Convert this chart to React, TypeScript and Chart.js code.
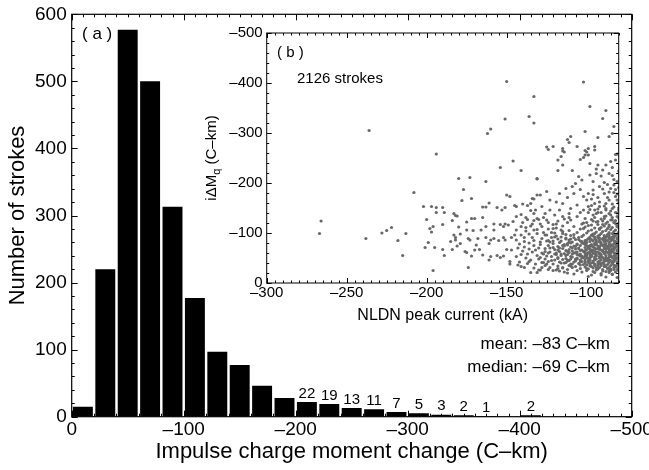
import React, { useEffect, useRef } from 'react';
import { Chart, registerables } from 'chart.js';

Chart.register(...registerables);

const FONT = "'Liberation Sans', Arial, Helvetica, sans-serif";

// ---------- Panel (a): histogram ----------
const binCenters = [-10, -30, -50, -70, -90, -110, -130, -150, -170, -190, -210, -230, -250, -270, -290, -310, -330, -350, -370, -390, -410, -430, -450, -470, -490];
const binCounts = [15, 220, 577, 500, 313, 177, 97, 77, 46, 28, 22, 19, 13, 11, 7, 5, 3, 2, 1, 0, 2, 0, 0, 0, 0];
const barLabels = ['', '', '', '', '', '', '', '', '', '', '22', '19', '13', '11', '7', '5', '3', '2', '1', '', '2', '', '', '', ''];
const mainXTicks = [0, -100, -200, -300, -400, -500];
const mainYTicks = [0, 100, 200, 300, 400, 500, 600];
const mainXTitle = 'Impulse charge moment change (C–km)';
const mainYTitle = 'Number of strokes';
const statLines = ['mean: –83 C–km', 'median: –69 C–km'];
const panelA = '( a )';

// ---------- Panel (b): scatter ----------
const insetXTicks = [-300, -250, -200, -150, -100];
const insetYTicks = [-500, -400, -300, -200, -100, 0];
const insetXTitle = 'NLDN peak current (kA)';
const panelB = '( b )';
const strokeNote = '2126 strokes';
// [peak current kA, iΔMq C-km] pairs
const scatterPairs = [
  -236, -305, -194, -258, -150, -403, -102, -402, -133, -373, -98, -353, -88, -345, -90, -329,
  -151, -328, -136, -333, -133, -320, -160, -308, -162, -299, -101, -303, -83, -313, -84, -299,
  -86, -293, -93, -291, -110, -293, -112, -287, -111, -281, -125, -272, -124, -267, -121, -273,
  -115, -269, -114, -262, -106, -273, -101, -265, -100, -262, -99, -269, -95, -273, -95, -266,
  -99, -256, -102, -251, -116, -253, -82, -257, -208, -181, -202, -153, -197, -153, -194, -151,
  -190, -151, -194, -141, -189, -141, -200, -127, -266, -124, -267, -99, -238, -89, -228, -100,
  -225, -105, -222, -111, -218, -85, -215, -55, -213, -99, -198, -109, -196, -113, -197, -102,
  -190, -117, -199, -81, -201, -71, -195, -71, -190, -67, -189, -55, -196, -25,
  -146, -244, -154, -231, -141, -225, -180, -209, -173, -211, -163, -203, -131, -208, -177, -187,
  -178, -165, -172, -169, -150, -176, -148, -173, -161, -160, -165, -152, -163, -152, -156, -151,
  -153, -146, -151, -151, -145, -155, -144, -153, -140, -158, -137, -155, -135, -159, -135, -145,
  -132, -146, -134, -169, -131, -176, -183, -139, -182, -135, -181, -134, -184, -125, -180, -112,
  -175, -122, -172, -129, -170, -129, -165, -131, -158, -118, -154, -117, -151, -118, -146, -123,
  -144, -133, -141, -137, -138, -131, -137, -127, -133, -125, -130, -127, -175, -106, -171, -105,
  -166, -106, -163, -113, -158, -106, -152, -113, -149, -116, -144, -106, -141, -113, -138, -111,
  -135, -114, -131, -107, -183, -96, -179, -98, -182, -91, -182, -86, -185, -83, -179, -79,
  -174, -89, -173, -86, -168, -89, -169, -76, -167, -67, -163, -91, -160, -86, -158, -89,
  -161, -79, -155, -85, -152, -91, -151, -86, -147, -91, -145, -96, -144, -86, -141, -96,
  -139, -91, -136, -98, -134, -91, -131, -99, -184, -67, -181, -74, -176, -63, -175, -61,
  -172, -54, -170, -66, -165, -56, -160, -53, -161, -46, -156, -55, -154, -51, -152, -54,
  -150, -67, -147, -66, -148, -43, -148, -38, -144, -53, -143, -36, -141, -33, -142, -42,
  -137, -39, -135, -21, -174, -31, -130, -26,
  -142, -78, -139, -72, -136, -80, -133, -75, -130, -70, -140, -64, -137, -58, -134, -62,
  -131, -55, -138, -50, -135, -46, -132, -66, -129, -82, -143, -70, -130, -48, -133, -85,
  -141, -57, -128, -60, -136, -68, -139, -83,
  -115, -264, -118, -246, -115, -236, -104, -247, -101, -256, -98, -239, -93, -236, -88, -236,
  -85, -243, -82, -246, -81, -258, -118, -225, -109, -225, -105, -213, -103, -206, -98, -216,
  -94, -219, -91, -214, -86, -219, -83, -207, -81, -203, -131, -209, -133, -168, -129, -176,
  -125, -183, -123, -166, -117, -179, -113, -189, -109, -193, -108, -179, -104, -187, -102, -173,
  -99, -179, -96, -186, -92, -193, -89, -179, -85, -189, -82, -173, -81, -166, -95, -159,
  -92, -153, -88, -159, -84, -149, -115, -159, -110, -149, -106, -156, -102, -146, -99, -153,
  -128, -153, -123, -146, -120, -136, -133, -139, -131, -129, -125, -126, -115, -133, -110, -126,
  -106, -133, -101, -129, -96, -136, -93, -123, -89, -133, -84, -126, -81, -133, -81, -113,
  -86, -113, -92, -109, -97, -116, -102, -109, -108, -113, -115, -114, -121, -109, -128, -113,
  -133, -106, -129, -26, -131, -21, -124, -27, -121, -25, -119, -26, -115, -31, -99, -13,
  -91, -16, -84, -18, -81, -11,
  -90, -226, -84, -231, -96, -203, -87, -197, -107, -199, -112, -171, -119, -162, -97, -168,
  -93, -171, -86, -166, -83, -181, -80, -191, -88, -146, -91, -141, -95, -146, -104, -141,
  -111, -139, -117, -146, -126, -139, -82, -141, -85, -136, -80, -146, -87, -122, -100, -121,
  -112, -121, -119, -118, -124, -121, -127, -131, -103, -118, -96, -124, -82, -119, -90, -117,
  -84, -17, -91, -19, -97, -16, -108, -18, -88, -12,
  -82, -22, -88, -23, -95, -21, -103, -22, -112, -20, -86, -25,
  -81, -27, -85, -25, -90, -27, -94, -26, -99, -28, -106, -25, -112, -27, -117, -24,
  -80, -30, -83, -31, -87, -29, -92, -31, -96, -30, -101, -32, -104, -29, -109, -31, -115, -30, -123, -31,
  -82, -34, -85, -35, -89, -33, -93, -35, -98, -34, -100, -36, -107, -33, -111, -35, -118, -34, -126, -35,
  -80, -38, -84, -39, -87, -37, -91, -39, -95, -38, -97, -40, -102, -37, -105, -39, -110, -38, -114, -40, -121, -38, -127, -41,
  -81, -42, -83, -43, -86, -41, -89, -43, -93, -42, -96, -44, -99, -41, -103, -43, -108, -42, -112, -44, -117, -42, -124, -43,
  -80, -46, -82, -47, -85, -45, -88, -47, -91, -46, -94, -48, -98, -45, -101, -47, -104, -46, -107, -48, -111, -45, -115, -47, -120, -46, -126, -48,
  -81, -50, -84, -51, -87, -49, -90, -51, -92, -50, -95, -52, -99, -49, -102, -51, -106, -50, -109, -52, -113, -49, -118, -51, -122, -53,
  -80, -54, -83, -55, -85, -53, -88, -55, -91, -54, -94, -56, -97, -53, -100, -55, -103, -54, -105, -56, -110, -53, -116, -55, -119, -57, -125, -54,
  -81, -58, -82, -59, -86, -57, -89, -59, -92, -58, -96, -60, -98, -57, -101, -59, -104, -58, -108, -60, -112, -57, -114, -59, -119, -60, -127, -58,
  -80, -62, -84, -63, -87, -61, -90, -63, -93, -62, -95, -64, -99, -61, -102, -63, -106, -62, -109, -64, -111, -61, -117, -63, -123, -62,
  -81, -66, -83, -67, -85, -65, -88, -67, -91, -66, -94, -68, -97, -65, -100, -67, -103, -66, -107, -68, -113, -65, -120, -67, -126, -69,
  -80, -70, -82, -71, -86, -69, -89, -71, -92, -70, -96, -72, -98, -69, -101, -71, -105, -70, -110, -72, -115, -69, -121, -71,
  -81, -74, -84, -75, -87, -73, -90, -75, -93, -74, -95, -76, -99, -73, -104, -75, -108, -74, -112, -76, -118, -73, -124, -75,
  -80, -78, -83, -79, -85, -77, -88, -79, -91, -78, -94, -80, -97, -77, -102, -79, -106, -78, -110, -80, -114, -77, -121, -79,
  -81, -82, -82, -83, -86, -81, -89, -83, -92, -82, -96, -84, -100, -81, -103, -83, -109, -82, -116, -84, -123, -82,
  -80, -86, -84, -87, -87, -85, -90, -87, -94, -86, -98, -88, -101, -85, -107, -87, -111, -86, -118, -88, -124, -85,
  -81, -90, -83, -91, -85, -89, -88, -91, -92, -90, -95, -92, -99, -89, -105, -91, -113, -90, -120, -92,
  -80, -94, -82, -95, -86, -93, -89, -95, -93, -94, -97, -96, -103, -93, -110, -95, -119, -94, -126, -96,
  -81, -98, -84, -99, -87, -97, -91, -99, -96, -98, -100, -100, -108, -97, -115, -99,
  -80, -102, -83, -103, -86, -101, -90, -103, -94, -102, -99, -104, -106, -101, -115, -103, -122, -101,
  -82, -106, -85, -107, -88, -105, -92, -107, -97, -106, -104, -108, -111, -105,
  -80, -110, -84, -111, -87, -109, -91, -111, -95, -110, -101, -112,
  -81, -115, -86, -116, -89, -114, -93, -117, -99, -115,
  -80, -120, -83, -121, -88, -119, -94, -122, -102, -120,
  -82, -125, -85, -126, -90, -124, -97, -127,
  -80, -130, -84, -131, -89, -129,
  -81, -140, -86, -139, -93, -141,
  -80, -150, -83, -152, -88, -149,
  -82, -32, -85, -28, -88, -33, -91, -35, -94, -31, -97, -33, -100, -29,
  -81, -36, -84, -41, -87, -44, -90, -40, -93, -38, -96, -41, -99, -44,
  -83, -48, -86, -52, -89, -48, -92, -53, -95, -49, -98, -52, -101, -54,
  -82, -56, -85, -60, -88, -62, -91, -57, -94, -61, -97, -63, -100, -58,
  -81, -64, -84, -68, -87, -70, -90, -65, -93, -69, -96, -66, -99, -71,
  -83, -72, -86, -76, -89, -77, -92, -73, -95, -79, -98, -75, -101, -77,
  -82, -80, -85, -84, -88, -85, -91, -81, -94, -83, -97, -87, -100, -86,
  -81, -88, -84, -92, -87, -94, -90, -89, -93, -91, -96, -94,
  -104, -36, -107, -44, -103, -50, -106, -57, -104, -65, -107, -73, -103, -80, -105, -87, -102, -96,
  -110, -34, -113, -41, -110, -48, -113, -55, -111, -67, -114, -74, -111, -82, -113, -88,
  -80, -34, -83, -36, -86, -31, -89, -37, -92, -39, -95, -35, -98, -38, -101, -40,
  -80, -42, -83, -45, -86, -47, -89, -45, -92, -44, -95, -46, -98, -48, -101, -43,
  -80, -50, -82, -52, -85, -55, -88, -51, -91, -52, -94, -54, -97, -56, -100, -51,
  -80, -58, -83, -61, -86, -63, -89, -61, -92, -60, -95, -58, -98, -61, -101, -62,
  -80, -66, -83, -69, -86, -67, -89, -69, -92, -67, -95, -70, -98, -67, -101, -65,
  -80, -74, -82, -77, -85, -73, -88, -75, -91, -76, -94, -77, -97, -74, -100, -75,
  -80, -82, -83, -85, -86, -89, -89, -87, -92, -86, -95, -88, -98, -83, -101, -81,
  -80, -90, -83, -95, -86, -97, -89, -92, -92, -96, -95, -99, -98, -92,
  -104, -42, -106, -48, -104, -54, -107, -61, -105, -69, -106, -77, -104, -84, -108, -91,
  -109, -38, -112, -46, -109, -58, -112, -63, -109, -70, -112, -79, -110, -88,
  -116, -40, -118, -49, -116, -58, -118, -66, -115, -75, -117, -81, -116, -92, -120, -100,
  -80, -24, -83, -27, -86, -21, -90, -24, -93, -28, -96, -23, -100, -25,
  -81, -178, -84, -158, -87, -171, -90, -188, -93, -148, -96, -177, -99, -141, -83, -196,
  -86, -182, -89, -154, -92, -162, -95, -131, -98, -147, -80, -160, -85, -144, -88, -134,
  -91, -128, -94, -139, -97, -155, -100, -166, -82, -187, -84, -215, -89, -201, -94, -228, -80, -224,
  -128, -31, -125, -38, -122, -45, -129, -51, -126, -63, -123, -70, -129, -77, -125, -84,
  -122, -91, -127, -101, -124, -108, -121, -117, -118, -124, -114, -128, -111, -131, -119, -110,
  -116, -106, -113, -97, -118, -29, -114, -22, -120, -58, -117, -70, -121, -84, -125, -96,
  -128, -89, -124, -60, -138, -104, -134, -118, -140, -121, -129, -118, -136, -43, -132, -38,
  -139, -31, -128, -41, -133, -30,
];

function fmt(v: number): string {
  if (v === 0) return '0';
  return (v < 0 ? '–' : '') + Math.abs(v);
}

type AxisSpec = { min: number; max: number; major: number; minor: number; majorLen: number; minorLen: number };

function drawFrameTicks(chart: any, xs: AxisSpec, ys: AxisSpec, lw: number) {
  const { ctx, chartArea: a, scales } = chart;
  const sx = scales.x;
  const sy = scales.y;
  ctx.save();
  ctx.strokeStyle = '#000';
  ctx.lineWidth = 1;
  ctx.beginPath();
  const isMajor = (v: number, m: number) => Math.abs(v / m - Math.round(v / m)) < 1e-6;
  for (let v = xs.min; v <= xs.max + 1e-9; v += xs.minor) {
    const len = isMajor(v, xs.major) ? xs.majorLen : xs.minorLen;
    const px = Math.round(sx.getPixelForValue(v)) + 0.5;
    ctx.moveTo(px, a.bottom);
    ctx.lineTo(px, a.bottom - len);
    ctx.moveTo(px, a.top);
    ctx.lineTo(px, a.top + len);
  }
  for (let v = ys.min; v <= ys.max + 1e-9; v += ys.minor) {
    const len = isMajor(v, ys.major) ? ys.majorLen : ys.minorLen;
    const py = Math.round(sy.getPixelForValue(v)) + 0.5;
    ctx.moveTo(a.left, py);
    ctx.lineTo(a.left + len, py);
    ctx.moveTo(a.right, py);
    ctx.lineTo(a.right - len, py);
  }
  ctx.stroke();
  ctx.lineWidth = lw;
  ctx.strokeRect(a.left, a.top, a.right - a.left, a.bottom - a.top);
  ctx.restore();
}

export default function App() {
  const mainRef = useRef<HTMLCanvasElement>(null);
  const insetRef = useRef<HTMLCanvasElement>(null);

  useEffect(() => {
    document.body.style.margin = '0';
    Chart.defaults.font.family = FONT;
    Chart.defaults.color = '#000';

    const mainPlugin = {
      id: 'mainDecor',
      afterDatasetsDraw(chart: any) {
        drawFrameTicks(
          chart,
          { min: -500, max: 0, major: 100, minor: 10, majorLen: 6, minorLen: 3 },
          { min: 0, max: 600, major: 100, minor: 20, majorLen: 6, minorLen: 3 },
          1.2
        );
        const { ctx } = chart;
        const meta = chart.getDatasetMeta(0);
        ctx.save();
        ctx.fillStyle = '#000';
        ctx.font = `15px ${FONT}`;
        ctx.textAlign = 'center';
        ctx.textBaseline = 'bottom';
        meta.data.forEach((el: any, i: number) => {
          if (barLabels[i]) ctx.fillText(barLabels[i], el.x, el.y - 1);
        });
        ctx.font = `17px ${FONT}`;
        ctx.textAlign = 'left';
        ctx.textBaseline = 'middle';
        ctx.fillText(panelA, 82, 34);
        ctx.textAlign = 'right';
        ctx.fillText(statLines[0], 610, 344);
        ctx.fillText(statLines[1], 610, 367);
        ctx.restore();
      },
    };

    const main = new Chart(mainRef.current!, {
      type: 'bar',
      data: {
        datasets: [
          {
            data: binCenters.map((c, i) => ({ x: c, y: binCounts[i] })),
            backgroundColor: '#000',
            borderWidth: 0,
            barPercentage: 0.89,
            categoryPercentage: 1,
          },
        ],
      },
      options: {
        responsive: false,
        maintainAspectRatio: false,
        animation: false,
        layout: { padding: { top: 14.3, right: 17.3, left: 0, bottom: 0 } },
        plugins: { legend: { display: false }, tooltip: { enabled: false } },
        scales: {
          x: {
            type: 'linear',
            min: -500,
            max: 0,
            reverse: true,
            offset: false,
            afterBuildTicks: (s: any) => { s.ticks = mainXTicks.map((v) => ({ value: v })); },
            ticks: { callback: (v: any) => fmt(Number(v)), font: { size: 19 }, color: '#000', padding: 2, maxRotation: 0, autoSkip: false },
            grid: { display: false, drawTicks: false },
            border: { display: false },
            title: { display: true, text: mainXTitle, font: { size: 22 }, color: '#000', padding: { top: 0, bottom: 5 } },
            afterFit: (s: any) => { s.height = 53.3; s.paddingLeft = 0; s.paddingRight = 0; },
          },
          y: {
            type: 'linear',
            min: 0,
            max: 600,
            afterBuildTicks: (s: any) => { s.ticks = mainYTicks.map((v) => ({ value: v })); },
            ticks: { callback: (v: any) => fmt(Number(v)), font: { size: 19 }, color: '#000', padding: 5, autoSkip: false },
            grid: { display: false, drawTicks: false },
            border: { display: false },
            title: { display: true, text: mainYTitle, font: { size: 22 }, color: '#000', padding: { top: 5, bottom: 0 } },
            afterFit: (s: any) => { s.width = 71.7; s.paddingTop = 0; s.paddingBottom = 0; },
          },
        },
      } as any,
      plugins: [mainPlugin],
    });

    const insetPlugin = {
      id: 'insetDecor',
      afterDatasetsDraw(chart: any) {
        drawFrameTicks(
          chart,
          { min: -300, max: -80, major: 50, minor: 5, majorLen: 5, minorLen: 2.5 },
          { min: -500, max: 0, major: 100, minor: 20, majorLen: 5, minorLen: 2.5 },
          1
        );
        const { ctx } = chart;
        ctx.save();
        ctx.fillStyle = '#000';
        ctx.font = `15px ${FONT}`;
        ctx.textAlign = 'left';
        ctx.textBaseline = 'middle';
        ctx.fillText(panelB, 77, 33);
        ctx.fillText(strokeNote, 97, 59);
        // rotated y title with subscript q
        const big = `15px ${FONT}`;
        const small = `11px ${FONT}`;
        const p1 = 'iΔM';
        const p2 = 'q';
        const p3 = ' (C–km)';
        ctx.font = big;
        const w1 = ctx.measureText(p1).width;
        const w3 = ctx.measureText(p3).width;
        ctx.font = small;
        const w2 = ctx.measureText(p2).width;
        const total = w1 + w2 + w3;
        ctx.translate(16, 138);
        ctx.rotate(-Math.PI / 2);
        ctx.textBaseline = 'alphabetic';
        let x0 = -total / 2;
        ctx.font = big;
        ctx.fillText(p1, x0, 0);
        x0 += w1;
        ctx.font = small;
        ctx.fillText(p2, x0, 4);
        x0 += w2;
        ctx.font = big;
        ctx.fillText(p3, x0, 0);
        ctx.restore();
      },
    };

    const pts: { x: number; y: number }[] = [];
    for (let i = 0; i + 1 < scatterPairs.length; i += 2) pts.push({ x: scatterPairs[i], y: scatterPairs[i + 1] });

    const inset = new Chart(insetRef.current!, {
      type: 'scatter',
      data: {
        datasets: [
          {
            data: pts,
            pointRadius: 1.6,
            pointBackgroundColor: '#686868',
            pointBorderWidth: 0,
            pointBorderColor: '#686868',
          },
        ],
      },
      options: {
        responsive: false,
        maintainAspectRatio: false,
        animation: false,
        layout: { padding: { top: 13, right: 21.3, left: 0, bottom: 0 } },
        plugins: { legend: { display: false }, tooltip: { enabled: false } },
        scales: {
          x: {
            type: 'linear',
            min: -300,
            max: -80,
            afterBuildTicks: (s: any) => { s.ticks = insetXTicks.map((v) => ({ value: v })); },
            ticks: { callback: (v: any) => fmt(Number(v)), font: { size: 15 }, color: '#000', padding: 1, maxRotation: 0, autoSkip: false },
            grid: { display: false, drawTicks: false },
            border: { display: false },
            title: { display: true, text: insetXTitle, font: { size: 16 }, color: '#000', padding: { top: 0, bottom: 5 } },
            afterFit: (s: any) => { s.height = 47; s.paddingLeft = 0; s.paddingRight = 0; },
          },
          y: {
            type: 'linear',
            min: -500,
            max: 0,
            reverse: true,
            afterBuildTicks: (s: any) => { s.ticks = insetYTicks.map((v) => ({ value: v })); },
            ticks: { callback: (v: any) => fmt(Number(v)), font: { size: 15 }, color: '#000', padding: 4, autoSkip: false },
            grid: { display: false, drawTicks: false },
            border: { display: false },
            afterFit: (s: any) => { s.width = 66.7; s.paddingTop = 0; s.paddingBottom = 0; },
          },
        },
      } as any,
      plugins: [insetPlugin],
    });

    return () => {
      main.destroy();
      inset.destroy();
    };
  }, []);

  return (
    <div style={{ position: 'relative', width: 649, height: 470, background: '#fff', overflow: 'hidden' }}>
      <canvas ref={mainRef} width={649} height={470} style={{ position: 'absolute', left: 0, top: 0 }} />
      <canvas ref={insetRef} width={440} height={310} style={{ position: 'absolute', left: 200, top: 20 }} />
    </div>
  );
}
